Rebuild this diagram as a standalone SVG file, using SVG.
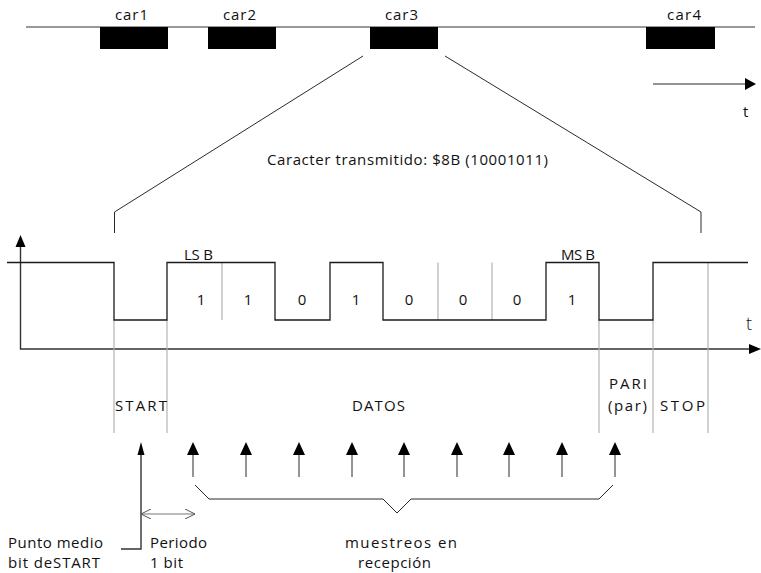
<svg xmlns="http://www.w3.org/2000/svg" width="761" height="573" viewBox="0 0 761 573">
  <style>
    text { font-family: "Open Sans", "Liberation Sans", sans-serif; font-size: 15px; fill: #111; }
    .mid { text-anchor: middle; }
    .sig { stroke: #1a1a1a; stroke-width: 1.3; fill: none; }
    .grid { stroke: #b4b4b4; stroke-width: 1.2; fill: none; }
    .line { stroke: #2a2a2a; stroke-width: 1; fill: none; }
    .axis { stroke: #333; stroke-width: 1.4; fill: none; }
    .head { fill: #000; }
    .box { fill: #000; }
  </style>
  <defs>
    <marker id="open" viewBox="0 0 10 10" refX="10" refY="5" markerWidth="10" markerHeight="10" markerUnits="userSpaceOnUse" orient="auto-start-reverse">
      <path d="M0,0 L10,5 L0,10" fill="none" stroke="#555" stroke-width="1"/>
    </marker>
  </defs>

  <!-- character stream on the line -->
  <g id="stream">
    <path d="M26,27 H755" stroke="#777" stroke-width="1.3" fill="none"/>
  </g>
  <g id="car1"><rect class="box" x="100" y="27" width="68" height="22"/><text x="115" y="20" textLength="33">car1</text></g>
  <g id="car2"><rect class="box" x="208" y="27" width="68" height="22"/><text x="223" y="20" textLength="33">car2</text></g>
  <g id="car3"><rect class="box" x="370" y="27" width="68" height="22"/><text x="385" y="20" textLength="33">car3</text></g>
  <g id="car4"><rect class="box" x="646" y="27" width="69" height="22"/><text x="667" y="20" textLength="34">car4</text></g>

  <!-- time direction -->
  <g id="time-arrow">
    <path class="line" d="M653,84 H746"/>
    <path class="head" d="M756,84 L745,78 L745,90 Z"/>
    <text x="743" y="117">t</text>
  </g>

  <!-- zoom of car3 into the bit frame -->
  <g id="connectors">
    <path class="line" d="M363,56 L114.5,212 V233"/>
    <path class="line" d="M445,56 L701,212 V233"/>
  </g>

  <g id="title">
    <text x="267" y="165" textLength="281">Caracter transmitido: $8B (10001011)</text>
  </g>

  <!-- axes -->
  <g id="axes">
    <path class="axis" d="M20.5,246 V349 H750"/>
    <path class="head" d="M20.5,235 L15.5,247 L25.5,247 Z"/>
    <path class="head" d="M761,349 L749,344 L749,354 Z"/>
    <text x="746" y="330" style="font-size:18px;font-weight:300">t</text>
  </g>

  <!-- bit cell boundaries -->
  <g id="bit-boundaries">
    <path class="grid" d="M114,320 V433 M167,320 V433 M599,320 V433 M653,320 V433 M708,262.5 V433"/>
    <path class="grid" d="M222,262.5 V320 M438,262.5 V320 M492,262.5 V320"/>
  </g>

  <!-- transmitted waveform -->
  <g id="waveform">
    <path class="sig" d="M7,262.5 H114 V320 H167 V262.5 H275 V320 H330 V262.5 H383 V320 H546 V262.5 H599 V320 H653 V262.5 H748"/>
  </g>

  <!-- bit values -->
  <g id="bit-values">
    <text class="mid" x="201" y="305">1</text>
    <text class="mid" x="248" y="305">1</text>
    <text class="mid" x="302" y="305">0</text>
    <text class="mid" x="356" y="305">1</text>
    <text class="mid" x="409" y="305">0</text>
    <text class="mid" x="463" y="305">0</text>
    <text class="mid" x="517" y="305">0</text>
    <text class="mid" x="572" y="305">1</text>
    <text x="184" y="260" textLength="29">LS B</text>
    <text x="561" y="260" textLength="34">MS B</text>
  </g>

  <!-- field names -->
  <g id="fields">
    <text x="115" y="411" textLength="52">START</text>
    <text x="352" y="411" textLength="53">DATOS</text>
    <text x="609" y="389" textLength="38">PARI</text>
    <text x="608" y="411" textLength="39">(par)</text>
    <text x="660" y="411" textLength="45">STOP</text>
  </g>

  <!-- sampling instants -->
  <g id="samples">
    <path class="axis" d="M141,452 V549 H121" stroke-width="1.6"/>
    <path class="head" d="M141,442 L137.5,455 L144.5,455 Z"/>
    <g class="line">
      <path d="M193,453 V477 M246,453 V477 M299,453 V477 M352,453 V477 M404,453 V477 M457,453 V477 M509,453 V477 M562,453 V477 M615,453 V477"/>
    </g>
    <path class="head" d="M193,442 l-6,13 h12 Z M246,442 l-6,13 h12 Z M299,442 l-6,13 h12 Z M352,442 l-6,13 h12 Z M404,442 l-6,13 h12 Z M457,442 l-6,13 h12 Z M509,442 l-6,13 h12 Z M562,442 l-6,13 h12 Z M615,442 l-6,13 h12 Z"/>
  </g>

  <!-- one bit period -->
  <g id="period">
    <path d="M141,514 H195" stroke="#777" stroke-width="1" fill="none" marker-start="url(#open)" marker-end="url(#open)"/>
  </g>

  <!-- brace grouping the samples -->
  <g id="brace">
    <path class="line" d="M195,485 L209,499 H383 L397,513 L411,499 H599 L613,485" stroke="#333"/>
  </g>

  <!-- annotations -->
  <g id="notes">
    <text x="8" y="548" textLength="95">Punto medio</text>
    <text x="8" y="568" textLength="92">bit deSTART</text>
    <text x="150" y="548" textLength="57">Periodo</text>
    <text x="150" y="568" textLength="33">1 bit</text>
    <text x="345" y="548" textLength="112">muestreos en</text>
    <text x="358" y="568" textLength="73">recepción</text>
  </g>
</svg>
